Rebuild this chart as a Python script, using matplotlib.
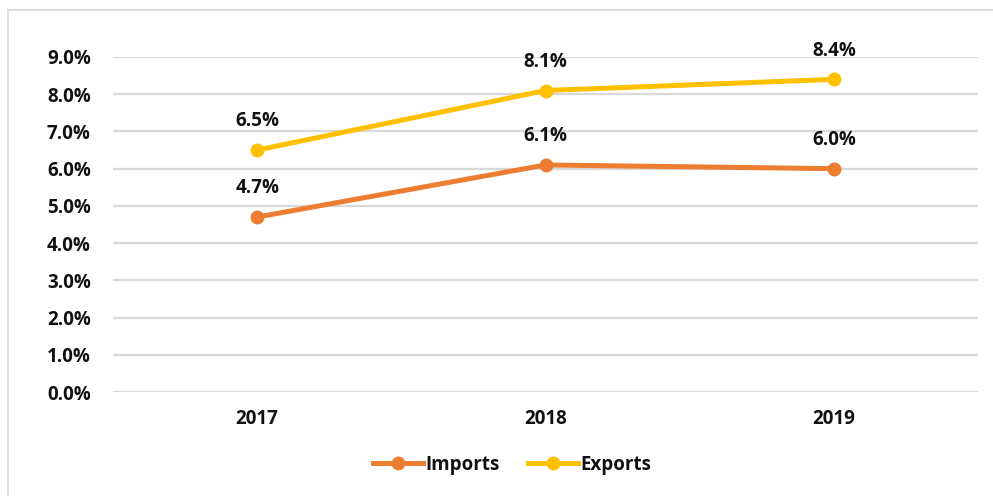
import matplotlib
matplotlib.use("Agg")
import matplotlib.pyplot as plt
from matplotlib.lines import Line2D

years = ["2017", "2018", "2019"]
imports = [4.7, 6.1, 6.0]
exports = [6.5, 8.1, 8.4]
y_ticks = [0, 1, 2, 3, 4, 5, 6, 7, 8, 9]

orange = "#ED7D31"
yellow = "#FFC000"
txt = "#111111"
fs = 13.5

plt.rcParams['font.family'] = ['Open Sans', 'DejaVu Sans']
plt.rcParams['font.weight'] = 'bold'

fig = plt.figure(figsize=(9.93, 4.96), dpi=100)
ax = fig.add_axes([113/993, 1 - 392/496, (978 - 113)/993, (392 - 57)/496])

# light frame around the chart area (top and left visible in the reference)
fig.add_artist(Line2D([8/993, 1], [1 - 10/496, 1 - 10/496], color="#D9D9D9", lw=1.2))
fig.add_artist(Line2D([8/993, 8/993], [0, 1 - 10/496], color="#D9D9D9", lw=1.2))

xs = [i + 0.5 for i in range(len(years))]
ax.plot(xs, imports, color=orange, lw=3.6, marker='o', ms=9, label="Imports", zorder=3)
ax.plot(xs, exports, color=yellow, lw=3.6, marker='o', ms=9, label="Exports", zorder=3)

for x, v in zip(xs, imports):
    ax.annotate(f"{v:.1f}%", (x, v), xytext=(0, 13.5), textcoords='offset points',
                ha='center', va='bottom', fontsize=fs, fontweight='bold', color=txt)
for x, v in zip(xs, exports):
    ax.annotate(f"{v:.1f}%", (x, v), xytext=(0, 13.5), textcoords='offset points',
                ha='center', va='bottom', fontsize=fs, fontweight='bold', color=txt)

ax.set_xlim(0, 3)
ax.set_ylim(0, 9)
ax.set_yticks(y_ticks)
ax.set_yticklabels([f"{t:.1f}%" for t in y_ticks])
ax.set_xticks(xs)
ax.set_xticklabels(years)
ax.tick_params(axis='both', length=0, labelsize=fs, colors=txt)
ax.tick_params(axis='y', pad=16)
ax.tick_params(axis='x', pad=12)
for lbl in ax.get_xticklabels() + ax.get_yticklabels():
    lbl.set_fontweight('bold')

ax.grid(axis='y', color="#D9D9D9", lw=1.6)
ax.set_axisbelow(True)
for s in ax.spines.values():
    s.set_visible(False)

leg = fig.legend(loc='center', bbox_to_anchor=(512/993, 1 - 465/496), ncol=2, frameon=False,
                 fontsize=fs, handlelength=2.7, handletextpad=0.1, columnspacing=1.5)
for t in leg.get_texts():
    t.set_fontweight('bold')
    t.set_color(txt)

fig.savefig("out.png", dpi=100)
